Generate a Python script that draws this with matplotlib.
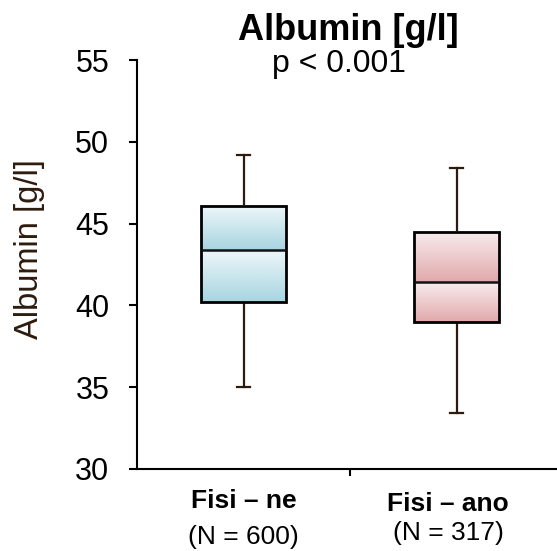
import numpy as np
import matplotlib
matplotlib.use('Agg')
import matplotlib.pyplot as plt
from matplotlib import transforms
from matplotlib.colors import LinearSegmentedColormap

plt.rcParams['font.family'] = ['Liberation Sans', 'DejaVu Sans']

# data
groups = ['Fisi \u2013 ne', 'Fisi \u2013 ano']
counts = ['(N = 600)', '(N = 317)']
whisker_low = [35.0, 33.4]
q1 = [40.2, 39.0]
median = [43.4, 41.4]
q3 = [46.1, 44.5]
whisker_high = [49.2, 48.4]

positions = [0.5, 1.5]
box_w = 0.4
grad_top = ['#eef7fa', '#f8ecee']
grad_bot = ['#a8d5e1', '#e1a9ab']
brown = '#2d1b0e'

fig = plt.figure(figsize=(5.57, 5.51), dpi=100)
ax = fig.add_axes([137/557, 1 - 469/551, 426/557, 409/551])

stats = []
for i in range(len(groups)):
    stats.append({'med': median[i], 'q1': q1[i], 'q3': q3[i],
                  'whislo': whisker_low[i], 'whishi': whisker_high[i],
                  'fliers': [], 'label': groups[i]})

ax.bxp(stats, positions=positions, widths=box_w, showfliers=False,
       patch_artist=True,
       boxprops=dict(facecolor='none', edgecolor='black', linewidth=2.0, zorder=3),
       medianprops=dict(color='#111111', linewidth=1.8, zorder=4),
       whiskerprops=dict(color=brown, linewidth=1.6),
       capprops=dict(color=brown, linewidth=1.6),
       capwidths=0.06)

# gradient fill for each half of the box
grad = np.linspace(0, 1, 100).reshape(-1, 1)
for i, p in enumerate(positions):
    cmap = LinearSegmentedColormap.from_list('g%d' % i, [grad_bot[i], grad_top[i]])
    for lo, hi in [(q1[i], median[i]), (median[i], q3[i])]:
        ax.imshow(grad, cmap=cmap, origin='lower', aspect='auto',
                  extent=[p - box_w/2, p + box_w/2, lo, hi], zorder=2)

ax.set_xlim(0, 2)
ax.set_ylim(30, 55)
ax.set_yticks([30, 35, 40, 45, 50, 55])
ax.set_xticks([1])
ax.set_xticklabels([])
ax.tick_params(axis='y', labelsize=22, length=6, width=1.5, pad=14)
ax.tick_params(axis='x', length=5, width=1.5)
for s in ['top', 'right']:
    ax.spines[s].set_visible(False)
for s in ['left', 'bottom']:
    ax.spines[s].set_linewidth(1.5)

ax.set_ylabel('Albumin [g/l]', fontsize=23.5, color=brown)
ax.yaxis.set_label_coords(-0.216, 0.538)

fig.text(348/557, 1 - 40/551, 'Albumin [g/l]', fontsize=26, fontweight='bold',
         ha='center', va='baseline')
fig.text(339/557, 1 - 72/551, 'p < 0.001', fontsize=23,
         ha='center', va='baseline')

trans = transforms.blended_transform_factory(ax.transData, fig.transFigure)
lab_x = [0.5, 1.46]
lab_y = [1 - 508/551, 1 - 510.7/551]
n_y = [1 - 544/551, 1 - 540/551]
for i in range(len(groups)):
    ax.text(lab_x[i], lab_y[i], groups[i], transform=trans, fontsize=19,
            fontweight='bold', ha='center', va='baseline')
    ax.text(lab_x[i], n_y[i], counts[i], transform=trans, fontsize=19,
            ha='center', va='baseline')

fig.savefig('out.png', dpi=100)
